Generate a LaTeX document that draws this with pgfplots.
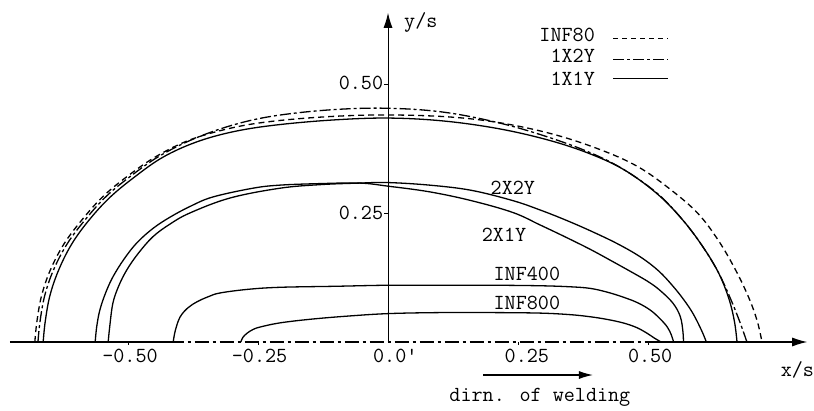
\documentclass[border=0pt]{standalone}
\usepackage{fontspec}
\usepackage{pgfplots}
\pgfplotsset{compat=1.18}
\usetikzlibrary{arrows.meta}
\begin{document}
\begin{tikzpicture}
\tikzset{every node/.style={font=\fontsize{21.5}{24}\selectfont\ttfamily, inner sep=0pt}}
\useasboundingbox (0,0) rectangle (814pt,410pt);
\begin{axis}[at={(0,0)}, anchor=south west, scale only axis,
  width=814pt, height=410pt,
  xmin=-0.746, xmax=0.819, ymin=-0.1318, ymax=0.6628,
  hide axis, clip=false,
  cv/.style={black, line width=1.3pt, smooth, tension=0.6, mark=none}]
% axes
\draw[line width=1.1pt] (axis cs:-0.727,0) -- (axis cs:-0.42,0);
\draw[line width=1.1pt, dash pattern=on 14pt off 4pt on 3pt off 4pt] (axis cs:-0.42,0) -- (axis cs:0.50,0);
\draw[line width=1.1pt, -{Latex[length=15pt,width=9pt]}] (axis cs:0.50,0) -- (axis cs:0.806,0);
\draw[line width=1pt, -{Latex[length=15pt,width=9pt]}] (axis cs:0,0) -- (axis cs:0,0.638);
\draw[line width=0.8pt] (axis cs:-0.5,0) -- ([yshift=-3pt]axis cs:-0.5,0);
\draw[line width=0.8pt] (axis cs:-0.25,0) -- ([yshift=-3pt]axis cs:-0.25,0);
\draw[line width=0.8pt] (axis cs:0.25,0) -- ([yshift=-3pt]axis cs:0.25,0);
\draw[line width=0.8pt] (axis cs:0.5,0) -- ([yshift=-3pt]axis cs:0.5,0);
\draw[line width=0.8pt] (axis cs:0,0.25) -- ([xshift=-4pt]axis cs:0,0.25);
\draw[line width=0.8pt] (axis cs:0,0.5) -- ([xshift=-4pt]axis cs:0,0.5);
% tick labels
\node at (axis cs:-0.496,-0.027) {-0.50};
\node at (axis cs:-0.247,-0.027) {-0.25};
\node[anchor=west] at (axis cs:-0.029,-0.027) {0.0'};
\node at (axis cs:0.267,-0.027) {0.25};
\node at (axis cs:0.504,-0.027) {0.50};
\node[anchor=east] at (axis cs:-0.009,0.502) {0.50};
\node[anchor=east] at (axis cs:-0.009,0.25) {0.25};
% axis labels
\node at (axis cs:0.063,0.620) {y/s};
\node at (axis cs:0.787,-0.054) {x/s};
\node at (axis cs:0.292,-0.107) {dirn. of welding};
\draw[line width=1.2pt, -{Latex[length=14pt,width=8pt]}] (axis cs:0.183,-0.064) -- (axis cs:0.394,-0.064);
% legend
\node[anchor=east] at (axis cs:0.398,0.596) {INF80};
\node[anchor=east] at (axis cs:0.398,0.554) {1X2Y};
\node[anchor=east] at (axis cs:0.398,0.511) {1X1Y};
\draw[line width=1.1pt, dash pattern=on 5pt off 4pt] (axis cs:0.433,0.589) -- (axis cs:0.538,0.589);
\draw[line width=1.1pt, dash pattern=on 11pt off 3pt on 3pt off 3pt] (axis cs:0.433,0.548) -- (axis cs:0.538,0.548);
\draw[line width=1.1pt] (axis cs:0.433,0.511) -- (axis cs:0.538,0.511);
% curve labels
\node at (axis cs:0.240,0.298) {2X2Y};
\node at (axis cs:0.223,0.207) {2X1Y};
\node at (axis cs:0.267,0.132) {INF400};
\node at (axis cs:0.267,0.076) {INF800};
% INF80 (dashed)
\addplot[cv, dash pattern=on 6pt off 4pt] coordinates {
(-0.679,0) (-0.675,0.04) (-0.666,0.09) (-0.649,0.14) (-0.623,0.19) (-0.589,0.236)
(-0.548,0.282) (-0.50,0.322) (-0.445,0.360) (-0.38,0.392) (-0.30,0.415) (-0.22,0.428)
(-0.11,0.437) (0,0.440) (0.12,0.436) (0.22,0.424) (0.32,0.402) (0.41,0.372)
(0.48,0.340) (0.54,0.298) (0.595,0.25) (0.635,0.197) (0.668,0.14) (0.694,0.085)
(0.710,0.04) (0.719,0)};
% 1X2Y (dash-dot)
\addplot[cv, dash pattern=on 11pt off 3pt on 3pt off 3pt] coordinates {
(-0.673,0) (-0.669,0.04) (-0.660,0.09) (-0.643,0.14) (-0.617,0.19) (-0.583,0.236)
(-0.542,0.282) (-0.494,0.322) (-0.440,0.360) (-0.375,0.393) (-0.30,0.420) (-0.22,0.438)
(-0.11,0.450) (0,0.453) (0.11,0.445) (0.22,0.423) (0.32,0.393) (0.40,0.362)
(0.46,0.330) (0.52,0.286) (0.567,0.236) (0.605,0.185) (0.635,0.135) (0.658,0.085)
(0.676,0.04) (0.690,0)};
% 1X1Y (solid)
\addplot[cv] coordinates {
(-0.663,0) (-0.659,0.04) (-0.650,0.09) (-0.633,0.14) (-0.608,0.19) (-0.575,0.236)
(-0.535,0.280) (-0.487,0.320) (-0.433,0.358) (-0.37,0.387) (-0.30,0.407) (-0.22,0.420)
(-0.11,0.430) (0,0.434) (0.11,0.428) (0.22,0.412) (0.32,0.388) (0.40,0.360)
(0.46,0.330) (0.52,0.285) (0.567,0.236) (0.605,0.185) (0.635,0.135) (0.655,0.085)
(0.666,0.04) (0.671,0)};
% 2X1Y
\addplot[cv] coordinates {
(-0.563,0) (-0.560,0.03) (-0.554,0.062) (-0.543,0.095) (-0.529,0.126) (-0.508,0.160)
(-0.483,0.192) (-0.452,0.220) (-0.419,0.242) (-0.38,0.263) (-0.337,0.281) (-0.26,0.298)
(-0.208,0.304) (-0.13,0.307) (-0.054,0.308) (0,0.302) (0.08,0.291) (0.16,0.274)
(0.24,0.251) (0.292,0.227) (0.34,0.204) (0.388,0.180) (0.43,0.157) (0.471,0.134)
(0.50,0.117) (0.523,0.100) (0.548,0.075) (0.562,0.049) (0.567,0.02) (0.568,0)};
% 2X2Y
\addplot[cv] coordinates {
(-0.538,0) (-0.535,0.03) (-0.529,0.075) (-0.518,0.108) (-0.502,0.14) (-0.48,0.172)
(-0.452,0.204) (-0.42,0.228) (-0.381,0.250) (-0.304,0.279) (-0.208,0.298) (-0.13,0.305)
(-0.054,0.308) (0,0.309) (0.08,0.304) (0.16,0.294) (0.24,0.274) (0.292,0.256)
(0.34,0.237) (0.388,0.216) (0.44,0.191) (0.485,0.165) (0.52,0.138) (0.548,0.108)
(0.57,0.080) (0.587,0.054) (0.603,0.022) (0.612,0)};
% INF400
\addplot[cv] coordinates {
(-0.413,0) (-0.409,0.022) (-0.40,0.048) (-0.385,0.066) (-0.367,0.078) (-0.345,0.088)
(-0.323,0.095) (-0.27,0.102) (-0.208,0.106) (-0.10,0.108) (0,0.110) (0.10,0.110)
(0.20,0.110) (0.292,0.109) (0.35,0.107) (0.388,0.104) (0.42,0.097) (0.452,0.087)
(0.48,0.076) (0.504,0.062) (0.522,0.046) (0.537,0.029) (0.545,0.013) (0.549,0)};
% INF800
\addplot[cv] coordinates {
(-0.283,0) (-0.279,0.009) (-0.271,0.017) (-0.26,0.024) (-0.246,0.029) (-0.208,0.037)
(-0.15,0.044) (-0.08,0.050) (0,0.055) (0.10,0.057) (0.20,0.057) (0.292,0.056)
(0.35,0.053) (0.388,0.049) (0.42,0.044) (0.452,0.037) (0.478,0.028) (0.498,0.017)
(0.513,0.007) (0.525,0)};
\end{axis}
\end{tikzpicture}
\end{document}
